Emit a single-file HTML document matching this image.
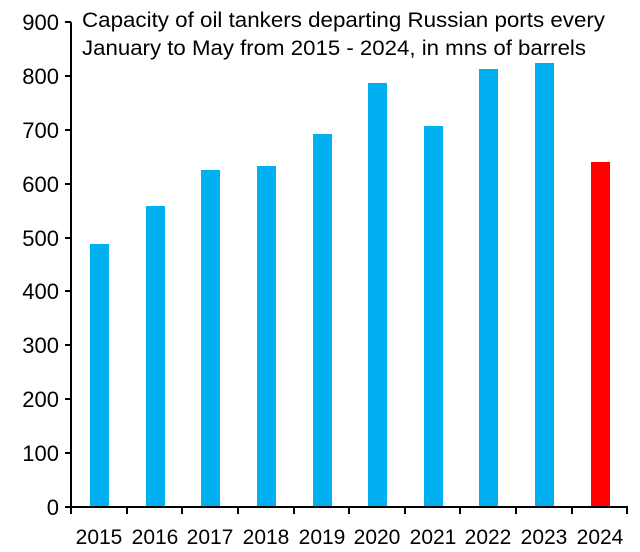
<!DOCTYPE html>
<html><head><style>body{margin:0;background:#fff}</style></head><body>
<svg width="640" height="547" xmlns="http://www.w3.org/2000/svg" font-family="'Liberation Sans',sans-serif">
<rect width="640" height="547" fill="#fff"/>
<g fill="#00B0F0">
<rect x="90" y="244" width="19" height="263"/>
<rect x="146" y="206" width="19" height="301"/>
<rect x="201" y="170" width="19" height="337"/>
<rect x="257" y="166" width="19" height="341"/>
<rect x="313" y="134" width="19" height="373"/>
<rect x="368" y="83" width="19" height="424"/>
<rect x="424" y="126" width="19" height="381"/>
<rect x="479" y="69" width="19" height="438"/>
<rect x="535" y="63" width="19" height="444"/>
</g>
<rect x="591" y="162" width="19" height="345" fill="#FF0000"/>
<g stroke="#000" stroke-width="2">
<line x1="71" y1="22" x2="71" y2="508"/>
<line x1="70" y1="507" x2="628" y2="507"/>
<line x1="65" y1="22" x2="71" y2="22"/><line x1="65" y1="76" x2="71" y2="76"/><line x1="65" y1="130" x2="71" y2="130"/><line x1="65" y1="184" x2="71" y2="184"/><line x1="65" y1="238" x2="71" y2="238"/><line x1="65" y1="291" x2="71" y2="291"/><line x1="65" y1="345" x2="71" y2="345"/><line x1="65" y1="399" x2="71" y2="399"/><line x1="65" y1="453" x2="71" y2="453"/><line x1="65" y1="507" x2="71" y2="507"/>
<line x1="71" y1="507" x2="71" y2="514"/><line x1="127" y1="507" x2="127" y2="514"/><line x1="182" y1="507" x2="182" y2="514"/><line x1="238" y1="507" x2="238" y2="514"/><line x1="294" y1="507" x2="294" y2="514"/><line x1="349" y1="507" x2="349" y2="514"/><line x1="405" y1="507" x2="405" y2="514"/><line x1="460" y1="507" x2="460" y2="514"/><line x1="516" y1="507" x2="516" y2="514"/><line x1="572" y1="507" x2="572" y2="514"/><line x1="627" y1="507" x2="627" y2="514"/>
</g>
<g font-size="22" text-anchor="end" fill="#000">
<text x="59" y="30">900</text><text x="59" y="84">800</text><text x="59" y="138">700</text><text x="59" y="192">600</text><text x="59" y="246">500</text><text x="59" y="299">400</text><text x="59" y="353">300</text><text x="59" y="407">200</text><text x="59" y="461">100</text><text x="59" y="515">0</text>
</g>
<g font-size="21" text-anchor="middle" fill="#000">
<text x="99" y="544">2015</text><text x="155" y="544">2016</text><text x="210" y="544">2017</text><text x="266" y="544">2018</text><text x="322" y="544">2019</text><text x="377" y="544">2020</text><text x="433" y="544">2021</text><text x="488" y="544">2022</text><text x="544" y="544">2023</text><text x="600" y="544">2024</text>
</g>
<g font-size="21" fill="#000">
<text x="82" y="27" textLength="523" lengthAdjust="spacingAndGlyphs">Capacity of oil tankers departing Russian ports every</text>
<text x="82" y="55" textLength="504" lengthAdjust="spacingAndGlyphs">January to May from 2015 - 2024, in mns of barrels</text>
</g>
</svg>
</body></html>
